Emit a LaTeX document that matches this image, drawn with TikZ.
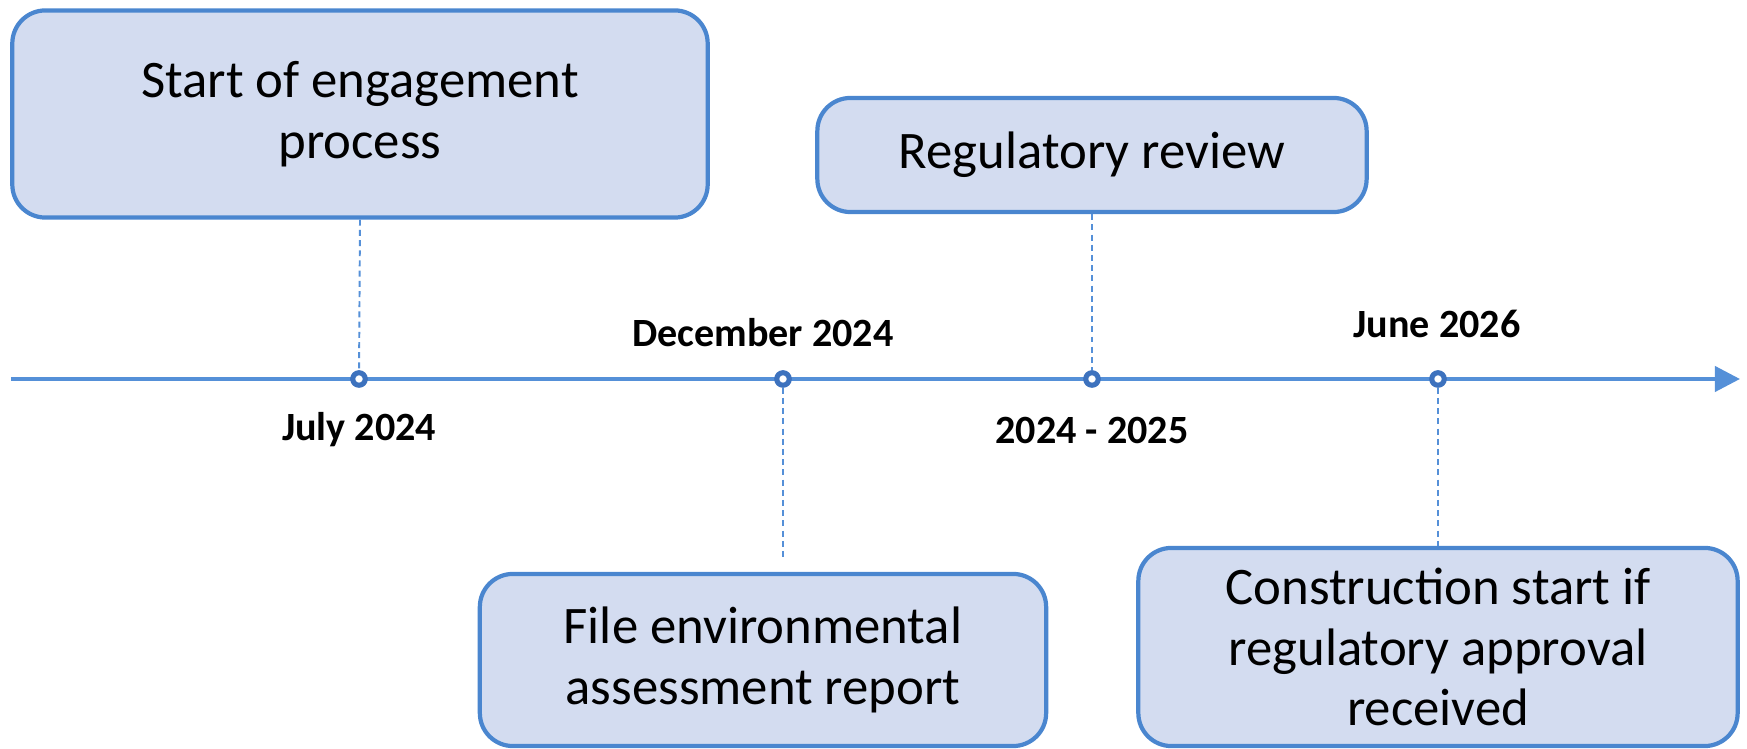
\documentclass[tikz,border=0pt]{standalone}
\usepackage{fontspec}
\setmainfont{Carlito}
\usetikzlibrary{positioning, arrows.meta, shadows}

\definecolor{boxfill}{HTML}{D3DCF0}
\definecolor{boxline}{HTML}{4A86CF}
\definecolor{axisline}{HTML}{5590D8}
\definecolor{dotline}{HTML}{3D72BE}

\begin{document}
\begin{tikzpicture}[x=0.01cm, y=-0.01cm,
        stage/.style={draw=boxline, fill=boxfill, line width=1.2pt, rounded corners=0.33cm, align=center, inner sep=0pt, font=\fontsize{15}{17.2}\selectfont},
        event/.style={circle, draw=dotline, fill=white, line width=1.45pt, minimum size=0.125cm, inner sep=0pt, drop shadow={opacity=0.3, shadow xshift=0.2pt, shadow yshift=-0.6pt}},
        date/.style={inner sep=0pt, font=\fontsize{11.4}{13}\selectfont\bfseries},
        guide/.style={axisline, line width=0.55pt, dash pattern=on 1.7pt off 1.2pt}]
        \useasboundingbox (0,0) rectangle (1747,749);

        % Draw the stage boxes
                \node[stage, minimum width=6.95cm, minimum height=2.07cm] (engage) at (360,114) {Start of engagement\\process};
                \node[stage, minimum width=5.49cm, minimum height=1.14cm] (review) at (1092,155) {Regulatory review};
                \node[stage, minimum width=5.66cm, minimum height=1.72cm] (report) at (763,660) {File environmental\\assessment report};
                \node[stage, minimum width=5.99cm, minimum height=1.98cm] (build) at (1438,647) {Construction start if\\regulatory approval\\received};

                % Draw the time axis
                \coordinate (tstart) at (11,379);
                \coordinate (tend) at (1740,379);
                \draw[axisline, line width=1.15pt, -{Triangle[length=0.25cm, width=0.25cm]}] (tstart) -- (tend);

                % Draw the events on the axis
                \node[event] (jul) at (359,379) {};
                \node[event] (dec) at (783,379) {};
                \node[event] (rev) at (1092,379) {};
                \node[event] (jun) at (1438,379) {};

                % Draw the dates
                \node[date] (juldate) at (359,430) {July 2024};
                \node[date] (decdate) at (763,333) {December 2024};
                \node[date] (revdate) at (1092,430) {2024 - 2025};
                \node[date] (jundate) at (1437,324) {June 2026};

                % Draw the dashed guides
                \coordinate (decend) at (783,559);
                \draw[guide] (engage.south) -- (jul);
                \draw[guide] (review.south) -- (rev);
                \draw[guide] (dec) -- (decend);
                \draw[guide] (jun) -- (build.north);

    \end{tikzpicture}
\end{document}
